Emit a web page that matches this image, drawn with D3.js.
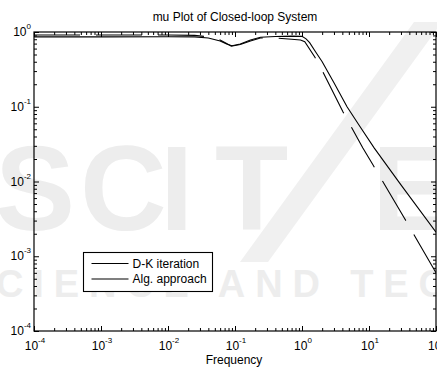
<!DOCTYPE html>
<html><head><meta charset="utf-8">
<script src="https://cdn.jsdelivr.net/npm/d3@7"></script>
<style>html,body{margin:0;padding:0;background:#fff}svg{display:block}</style>
</head><body>
<script>
// ---- data ----
const titleText = "mu Plot of Closed-loop System";
const xLabel = "Frequency";
const seriesNames = ["D-K iteration", "Alg. approach"];
const freqDK = [1e-4, 1e-3, 0.01, 0.025, 0.04, 0.06, 0.075, 0.09, 0.12, 0.17, 0.24, 0.4, 0.7, 1.0, 1.15, 1.3, 1.6, 2.0, 3.0, 4.7, 7.0, 12, 30, 100];
const muDK   = [0.86, 0.86, 0.865, 0.86, 0.83, 0.76, 0.69, 0.655, 0.69, 0.78, 0.85, 0.87, 0.88, 0.875, 0.81, 0.72, 0.54, 0.4, 0.21, 0.1, 0.058, 0.028, 0.009, 0.0021];
const freqAlg = [1e-4, 1e-3, 0.01, 0.025, 0.04, 0.06, 0.075, 0.088, 0.12, 0.17, 0.24, 0.4, 0.7, 0.95, 1.1, 1.56, 2.06, 4.1, 8.1, 11.5, 34, 100];
const muAlg   = [0.91, 0.91, 0.91, 0.9, 0.86, 0.78, 0.7, 0.645, 0.68, 0.76, 0.83, 0.83, 0.8, 0.78, 0.74, 0.46, 0.29, 0.085, 0.028, 0.0166, 0.0032, 0.0006];
const xExponents = [-4, -3, -2, -1, 0, 1, 2];
const yExponents = [-4, -3, -2, -1, 0];
const watermarkTop = ["S", "C", "I", "T", "E"];
const watermarkBottom = "CIENCE AND TEC";

// ---- layout ----
const W = 437, H = 371;
const L = 34, R = 436, T = 32, B = 331;
const font = "'Liberation Sans', Arial, sans-serif";

const svg = d3.select("body").append("svg").attr("width", W).attr("height", H);

// watermark (faint background)
svg.append("path").attr("d", "M414,22 L442,22 L268,262 L240,262 Z").attr("fill", "#f0f0f0");
const wm = svg.append("g").attr("fill", "#ededed").style("font-family", font).style("font-weight", "bold");
const wmX = [-5, 80, 160, 215, 372];
const big = wm.append("text").attr("y", 230).style("font-size", "120px");
watermarkTop.forEach((c, i) => big.append("tspan").attr("x", wmX[i]).text(c));
wm.append("text").attr("x", -4).attr("y", 297).style("font-size", "38px")
  .attr("textLength", 450).attr("lengthAdjust", "spacing").text(watermarkBottom);

const x = d3.scaleLog().domain([1e-4, 1e2]).range([L, R]);
const y = d3.scaleLog().domain([1e-4, 1]).range([B, T]);

function minors(lo, hi) {
  const out = [];
  for (let e = lo; e < hi; e++) for (let k = 2; k <= 9; k++) out.push(k * Math.pow(10, e));
  return out;
}
const xMaj = xExponents.map(e => Math.pow(10, e));
const yMaj = yExponents.map(e => Math.pow(10, e));
const xMin = minors(-4, 2);
const yMin = minors(-4, 0);

function axis(gen, vals, size, transform) {
  const g = svg.append("g").attr("transform", transform)
    .call(gen.tickValues(vals).tickSize(-size).tickFormat(""));
  g.select(".domain").remove();
  g.selectAll("line").attr("stroke", "#000").attr("stroke-width", 1);
  return g;
}
axis(d3.axisBottom(x), xMaj, 5, `translate(0,${B})`);
axis(d3.axisBottom(x), xMin, 3, `translate(0,${B})`);
axis(d3.axisTop(x), xMaj, 5, `translate(0,${T})`);
axis(d3.axisTop(x), xMin, 3, `translate(0,${T})`);
axis(d3.axisLeft(y), yMaj, 5, `translate(${L},0)`);
axis(d3.axisLeft(y), yMin, 3, `translate(${L},0)`);
axis(d3.axisRight(y), yMaj, 5, `translate(${R},0)`);
axis(d3.axisRight(y), yMin, 3, `translate(${R},0)`);

// frame
svg.append("rect").attr("x", L).attr("y", T).attr("width", R - L).attr("height", B - T)
  .attr("fill", "none").attr("stroke", "#000").attr("stroke-width", 1.2);

// curves
const line = d3.line().x(d => x(d[0])).y(d => y(d[1]));
svg.append("clipPath").attr("id", "pc").append("rect")
  .attr("x", L).attr("y", T).attr("width", R - L).attr("height", B - T);
svg.append("path").datum(freqDK.map((f, i) => [f, muDK[i]]))
  .attr("clip-path", "url(#pc)").attr("d", line).attr("fill", "none")
  .attr("stroke", "#000").attr("stroke-width", 1.1);
svg.append("path").datum(freqAlg.map((f, i) => [f, muAlg[i]]))
  .attr("clip-path", "url(#pc)").attr("d", line).attr("fill", "none")
  .attr("stroke", "#000").attr("stroke-width", 1.1).attr("stroke-dasharray", "46,16");

// tick labels
const tl = svg.append("g").style("font-family", font).style("font-size", "12px").attr("fill", "#000");
xExponents.forEach(e => {
  const t = tl.append("text").attr("x", x(Math.pow(10, e)) + 1).attr("y", 350).attr("text-anchor", "middle");
  t.append("tspan").text("10");
  t.append("tspan").attr("dy", -7).style("font-size", "8px").text(String(e));
});
yExponents.forEach(e => {
  const t = tl.append("text").attr("x", 31).attr("y", y(Math.pow(10, e)) + 4).attr("text-anchor", "end");
  t.append("tspan").text("10");
  t.append("tspan").attr("dy", -7).style("font-size", "8px").text(String(e));
});

// title and axis label
svg.append("text").attr("x", 235).attr("y", 21).attr("text-anchor", "middle")
  .style("font-family", font).style("font-size", "12px").text(titleText);
svg.append("text").attr("x", 234).attr("y", 364).attr("text-anchor", "middle")
  .style("font-family", font).style("font-size", "12px").text(xLabel);

// legend
const lg = svg.append("g");
lg.append("rect").attr("x", 83.5).attr("y", 252.5).attr("width", 129).attr("height", 39)
  .attr("fill", "#fff").attr("stroke", "#000").attr("stroke-width", 1.1);
const dashes = [null, "46,16"];
seriesNames.forEach((name, i) => {
  const yy = 263.5 + i * 15.5;
  lg.append("line").attr("x1", 91.5).attr("x2", 128.5).attr("y1", yy).attr("y2", yy)
    .attr("stroke", "#000").attr("stroke-width", 1.1).attr("stroke-dasharray", dashes[i]);
  lg.append("text").attr("x", 132.5).attr("y", yy + 4).style("font-family", font)
    .style("font-size", "12px").text(name);
});
</script>
</body></html>
